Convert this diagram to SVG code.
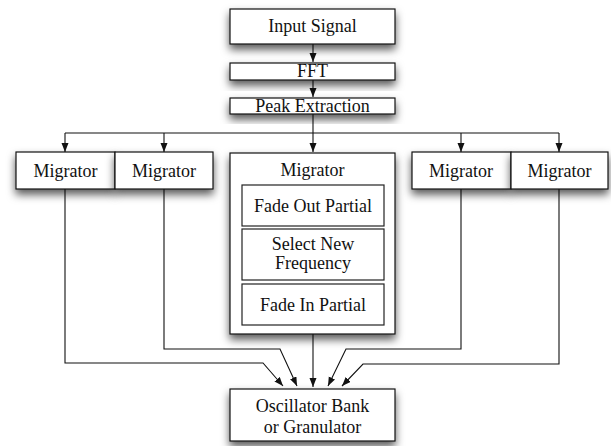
<svg xmlns="http://www.w3.org/2000/svg" width="611" height="446" viewBox="0 0 611 446">
<style>
.box{fill:#fff;stroke:#111;stroke-width:1.2;filter:url(#sh)}
.inner{fill:#fff;stroke:#222;stroke-width:1.2}
.t{font-family:"Liberation Serif","Times New Roman",serif;font-size:18px;fill:#111;text-anchor:middle}
.c{fill:none;stroke:#111;stroke-width:1.1}
.a{marker-end:url(#ah)}
</style>
<defs>
<filter id="sh" x="-20%" y="-30%" width="140%" height="190%">
<feDropShadow dx="0" dy="5" stdDeviation="4.5" flood-color="#000" flood-opacity="0.65"/>
</filter>
<marker id="ah" markerUnits="userSpaceOnUse" markerWidth="10" markerHeight="10" refX="9" refY="3.5" orient="auto">
<path d="M0,0 L9,3.5 L0,7 z" fill="#111"/>
</marker>
</defs>
<g id="connectors">
<path class="c a" d="M313,44 V62"/>
<path class="c a" d="M313,80 V97"/>
<path class="c a" d="M313,114 V152"/>
<path class="c" d="M65,133 H559"/>
<path class="c a" d="M65,133 V152"/>
<path class="c a" d="M164,133 V152"/>
<path class="c a" d="M461,133 V152"/>
<path class="c a" d="M559,133 V152"/>
<path class="c a" d="M65,189 V363 H263 L283,386"/>
<path class="c a" d="M164,189 V349 H280 L297,386"/>
<path class="c a" d="M313,334 V387"/>
<path class="c a" d="M461,189 V349 H346 L328,386"/>
<path class="c a" d="M559,189 V364 H363 L342,386"/>
</g>
<g id="input-signal">
<rect class="box" x="230" y="9" width="165" height="35"/>
<text class="t" x="312.5" y="32">Input Signal</text>
</g>
<g id="fft">
<rect class="box" x="230" y="63" width="165" height="17"/>
<text class="t" x="312.5" y="77">FFT</text>
</g>
<g id="peak-extraction">
<rect class="box" x="230" y="98" width="165" height="16"/>
<text class="t" x="312.5" y="112">Peak Extraction</text>
</g>
<g id="migrator-1">
<rect class="box" x="16" y="152" width="99" height="37"/>
<text class="t" x="65.5" y="177">Migrator</text>
</g>
<g id="migrator-2">
<rect class="box" x="115" y="152" width="98" height="37"/>
<text class="t" x="164" y="177">Migrator</text>
</g>
<g id="migrator-center">
<rect class="box" x="230" y="153" width="165" height="181"/>
<text class="t" x="312.5" y="176">Migrator</text>
<g id="fade-out">
<rect class="inner" x="242" y="185" width="142" height="41"/>
<text class="t" x="313" y="212">Fade Out Partial</text>
</g>
<g id="select-new">
<rect class="inner" x="242" y="229" width="142" height="51"/>
<text class="t" x="313" y="250">Select New</text>
<text class="t" x="313" y="269">Frequency</text>
</g>
<g id="fade-in">
<rect class="inner" x="242" y="284" width="142" height="41"/>
<text class="t" x="313" y="311">Fade In Partial</text>
</g>
</g>
<g id="migrator-4">
<rect class="box" x="412" y="152" width="99" height="37"/>
<text class="t" x="461" y="177">Migrator</text>
</g>
<g id="migrator-5">
<rect class="box" x="511" y="152" width="97" height="37"/>
<text class="t" x="559.5" y="177">Migrator</text>
</g>
<g id="oscillator">
<rect class="box" x="230" y="389" width="165" height="52"/>
<text class="t" x="312.5" y="412">Oscillator Bank</text>
<text class="t" x="312.5" y="433">or Granulator</text>
</g>
</svg>
